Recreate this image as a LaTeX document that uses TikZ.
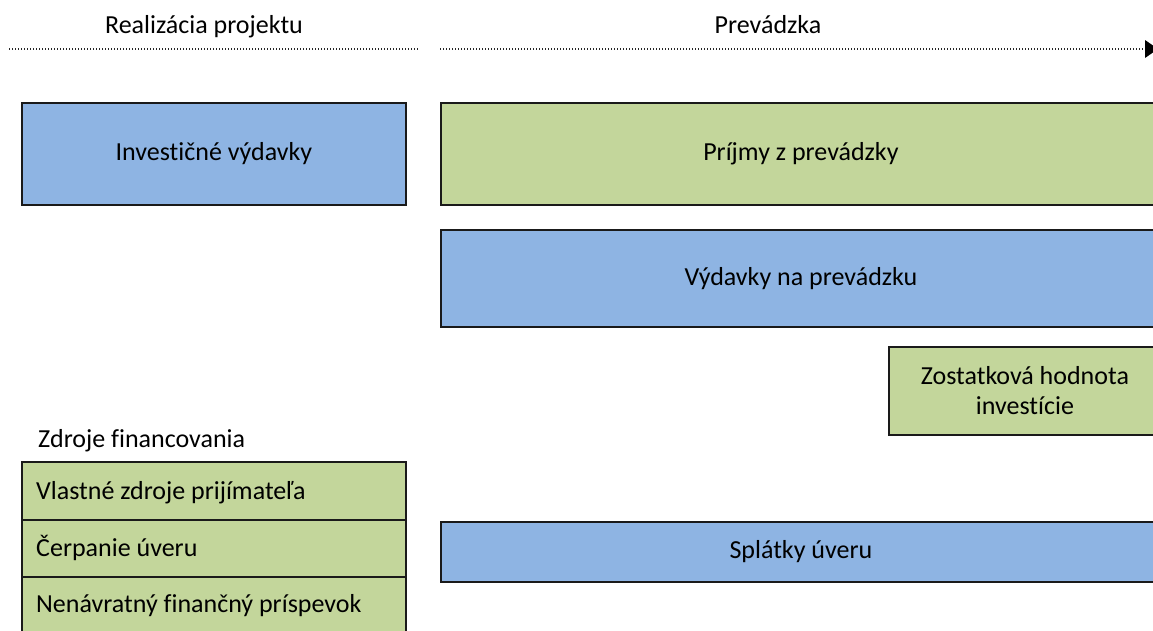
\documentclass[tikz,border=0pt]{standalone}
\usepackage{fontspec}
\setmainfont{Carlito}[Ligatures=NoCommon]
\usetikzlibrary{arrows.meta}
\definecolor{boxblue}{HTML}{8EB4E3}
\definecolor{boxgreen}{HTML}{C3D69B}
\definecolor{edge}{HTML}{1A1A1A}
\begin{document}
\begin{tikzpicture}[x=1pt,y=-1pt,
  every node/.style={font=\fontsize{26}{30}\selectfont, inner sep=0pt, text=black},
  bluebox/.style={draw=edge, line width=1.8pt, fill=boxblue, rectangle, anchor=north west, align=center},
  greenbox/.style={draw=edge, line width=1.8pt, fill=boxgreen, rectangle, anchor=north west, align=center},
  dotline/.style={line width=1.6pt, dash pattern=on 1.3pt off 1.7pt, draw=black!85}]
\useasboundingbox (0,0) rectangle (1153,630);
\clip (0,0) rectangle (1153,630);
% headers
\node[anchor=base] (hreal) at (204,33) {Realizácia projektu};
\node[anchor=base] (hprev) at (768,33) {Prevádzka};
\coordinate (l1) at (9,49);
\coordinate (l2) at (419,49);
\coordinate (r1) at (440,49);
\coordinate (r2) at (1146,49);
\draw[dotline] (l1) -- (l2);
\draw[dotline] (r1) -- (r2);
\fill[black] (1145,40) -- (1158,49) -- (1145,58) -- cycle;
% left box
\node[bluebox, minimum width=384pt, minimum height=102pt] (inv) at (21,102) {Investičné výdavky};
% right boxes
\node[greenbox, minimum width=720pt, minimum height=102pt] (prij) at (440,102) {Príjmy z prevádzky};
\node[bluebox, minimum width=720pt, minimum height=97pt] (vyd) at (440,229) {Výdavky na prevádzku};
\node[greenbox, minimum width=272pt, minimum height=88pt] (zost) at (888,346) {Zostatková hodnota\\investície};
\node[bluebox, minimum width=720pt, minimum height=60pt] (splat) at (440,521) {Splátky úveru};
% financing
\node[anchor=base west] (zdr) at (38,447) {Zdroje financovania};
\node[greenbox, minimum width=384pt, minimum height=58pt] (f1) at (21,461) {};
\node[greenbox, minimum width=384pt, minimum height=57pt] (f2) at (21,519) {};
\node[greenbox, minimum width=384pt, minimum height=70pt] (f3) at (21,576) {};
\node[anchor=base west] (f1t) at (36,499) {Vlastné zdroje prijímateľa};
\node[anchor=base west] (f2t) at (36,556) {Čerpanie úveru};
\node[anchor=base west] (f3t) at (36,612) {Nenávratný finančný príspevok};
\end{tikzpicture}
\end{document}
